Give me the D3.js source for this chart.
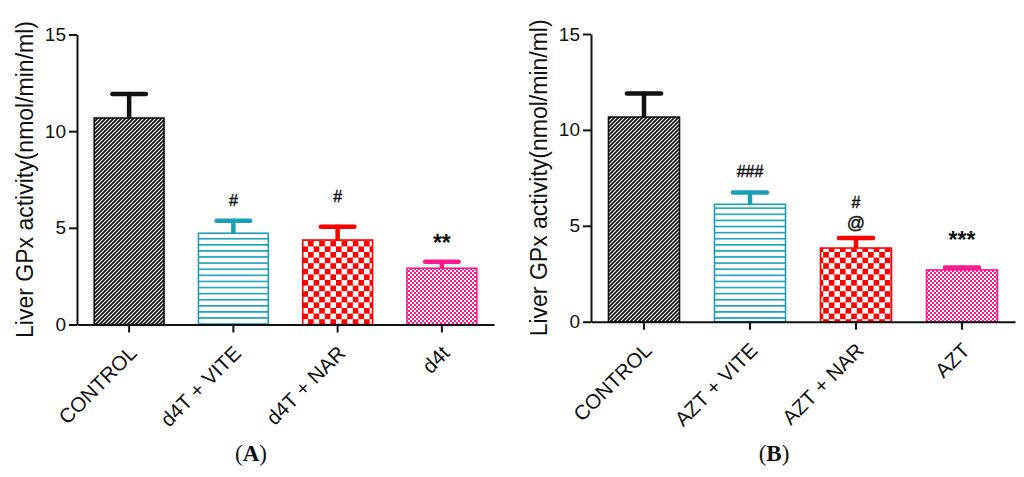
<!DOCTYPE html>
<html>
<head>
<meta charset="utf-8">
<script src="https://cdn.jsdelivr.net/npm/d3@7"></script>
<style>
    body { margin: 0; background: #fff; }
    svg { display: block; font-family: "Liberation Sans", Arial, sans-serif; }
</style>
</head>
<body>
<div id="chart"></div>
<script>
// values (mean and SEM)
const categoriesA = ["CONTROL", "d4T + VITE", "d4T + NAR", "d4t"];
const categoriesB = ["CONTROL", "AZT + VITE", "AZT + NAR", "AZT"];
const meansA = [10.68, 4.72, 4.37, 2.91];
const errorsA = [1.24, 0.65, 0.69, 0.34];
const meansB = [10.67, 6.12, 3.84, 2.70];
const errorsB = [1.23, 0.61, 0.52, 0.12];
const yTicks = [0, 5, 10, 15];
// significance marks and the height (in axis units) they sit at
const marksA = [[], ["#"], ["#"], ["**"]];
const markLevelsA = [[], [6.13], [6.34], [3.80]];
const marksB = [[], ["###"], ["#", "@"], ["***"]];
const markLevelsB = [[], [7.52], [5.93, 4.85], [3.82]];
const yTitle = "Liver GPx activity(nmol/min/ml)";

const colors = ["#111111", "#1b9fb6", "#ff0000", "#fb1a8b"];
const fills = ["url(#hatch)", "url(#stripes)", "url(#checker)", "url(#fine)"];

const svg = d3.select("#chart").append("svg")
    .attr("width", 1024)
    .attr("height", 477);

// bar fill patterns
const defs = svg.append("defs");

let p = defs.append("pattern").attr("id", "hatch")
    .attr("patternUnits", "userSpaceOnUse").attr("width", 4).attr("height", 4);
p.append("rect").attr("width", 4).attr("height", 4).attr("fill", "#fff");
p.append("path").attr("d", "M0,4 L4,0 M-1,1 L1,-1 M3,5 L5,3")
    .attr("stroke", colors[0]).attr("stroke-width", 1.7);

p = defs.append("pattern").attr("id", "stripes")
    .attr("patternUnits", "userSpaceOnUse").attr("width", 6).attr("height", 6.1);
p.append("rect").attr("width", 6).attr("height", 6.1).attr("fill", "#fff");
p.append("rect").attr("y", 0).attr("width", 6).attr("height", 1.6).attr("fill", colors[1]);

p = defs.append("pattern").attr("id", "checker")
    .attr("patternUnits", "userSpaceOnUse").attr("width", 11.2).attr("height", 11.2);
p.append("rect").attr("width", 11.2).attr("height", 11.2).attr("fill", "#fff");
p.append("rect").attr("width", 5.6).attr("height", 5.6).attr("fill", colors[2]);
p.append("rect").attr("x", 5.6).attr("y", 5.6).attr("width", 5.6).attr("height", 5.6).attr("fill", colors[2]);

p = defs.append("pattern").attr("id", "fine")
    .attr("patternUnits", "userSpaceOnUse").attr("width", 4).attr("height", 4);
p.append("rect").attr("width", 4).attr("height", 4).attr("fill", colors[3]);
p.append("rect").attr("width", 2).attr("height", 2).attr("fill", "#fff");
p.append("rect").attr("x", 2).attr("y", 2).attr("width", 2).attr("height", 2).attr("fill", "#fff");

const drawPanel = (cfg) => {
    const x = d3.scaleBand()
        .domain(cfg.categories)
        .range([cfg.left, cfg.right])
        .paddingInner(0.33)
        .paddingOuter(0.165);
    const y = d3.scaleLinear().domain([0, 15]).range([cfg.bottom, cfg.top]);

    const g = svg.append("g");

    const rows = cfg.categories.map((c, i) => ({
        name: c, mean: cfg.means[i], err: cfg.errors[i], i: i
    }));

    // error bars (drawn first so the bar outline sits on top)
    const capW = x.bandwidth() * 0.24;
    const eb = g.selectAll(".err").data(rows).enter().append("g")
        .attr("stroke", d => colors[d.i])
        .attr("stroke-width", 4.5)
        .attr("stroke-linecap", "round");
    eb.append("line")
        .attr("x1", d => x(d.name) + x.bandwidth() / 2)
        .attr("x2", d => x(d.name) + x.bandwidth() / 2)
        .attr("y1", d => y(d.mean) + 2)
        .attr("y2", d => y(d.mean + d.err));
    eb.append("line")
        .attr("x1", d => x(d.name) + x.bandwidth() / 2 - capW)
        .attr("x2", d => x(d.name) + x.bandwidth() / 2 + capW)
        .attr("y1", d => y(d.mean + d.err))
        .attr("y2", d => y(d.mean + d.err));

    g.selectAll(".bar").data(rows).enter().append("rect")
        .attr("x", d => x(d.name))
        .attr("y", d => y(d.mean))
        .attr("width", x.bandwidth())
        .attr("height", d => y(0) - y(d.mean))
        .attr("fill", d => fills[d.i])
        .attr("stroke", d => colors[d.i])
        .attr("stroke-width", 1.6);

    // significance marks
    rows.forEach(d => {
        cfg.marks[d.i].forEach((m, k) => {
            const big = m.indexOf("*") >= 0;
            g.append("text")
                .attr("x", x(d.name) + x.bandwidth() / 2)
                .attr("y", y(cfg.levels[d.i][k]))
                .attr("text-anchor", "middle")
                .attr("font-size", big ? 23 : (m === "@" ? 18 : 16))
                .attr("font-weight", big ? "bold" : "normal")
                .attr("stroke", big ? "none" : "#111")
                .attr("stroke-width", 0.4)
                .attr("fill", "#111")
                .text(m);
        });
    });

    const yAxis = g.append("g")
        .attr("transform", "translate(" + cfg.left + ",0)")
        .call(d3.axisLeft(y).tickValues(yTicks).tickSize(8).tickSizeOuter(0).tickPadding(3));
    yAxis.selectAll("text").attr("font-size", 19).attr("fill", "#111");

    const xAxis = g.append("g")
        .attr("transform", "translate(0," + cfg.bottom + ")")
        .call(d3.axisBottom(x).tickSize(8).tickSizeOuter(0));
    xAxis.selectAll("text")
        .attr("x", 0).attr("y", 0).attr("dy", 0)
        .attr("transform", "translate(9,30) rotate(-45)")
        .attr("text-anchor", "end")
        .attr("font-size", 20.5)
        .attr("fill", "#111");

    g.selectAll(".domain, .tick line").attr("stroke", "#111").attr("stroke-width", 2);

    g.append("text")
        .attr("transform", "translate(" + cfg.titleX + "," + (cfg.top + cfg.bottom) / 2 + ") rotate(-90)")
        .attr("text-anchor", "middle")
        .attr("font-size", 23)
        .attr("fill", "#111")
        .text(yTitle);

    const lab = g.append("text")
        .attr("x", cfg.labelX)
        .attr("y", 461)
        .attr("text-anchor", "middle")
        .attr("font-family", "'Liberation Serif', 'Times New Roman', serif")
        .attr("font-size", 23)
        .attr("fill", "#111");
    lab.append("tspan").text("(");
    lab.append("tspan").attr("font-weight", "bold").text(cfg.label);
    lab.append("tspan").text(")");
};

drawPanel({
    categories: categoriesA, means: meansA, errors: errorsA,
    marks: marksA, levels: markLevelsA,
    left: 77, right: 494, top: 34.5, bottom: 324.5,
    titleX: 33, labelX: 251, label: "A"
});

drawPanel({
    categories: categoriesB, means: meansB, errors: errorsB,
    marks: marksB, levels: markLevelsB,
    left: 591, right: 1015, top: 34, bottom: 321.7,
    titleX: 547, labelX: 774, label: "B"
});
</script>
</body>
</html>
